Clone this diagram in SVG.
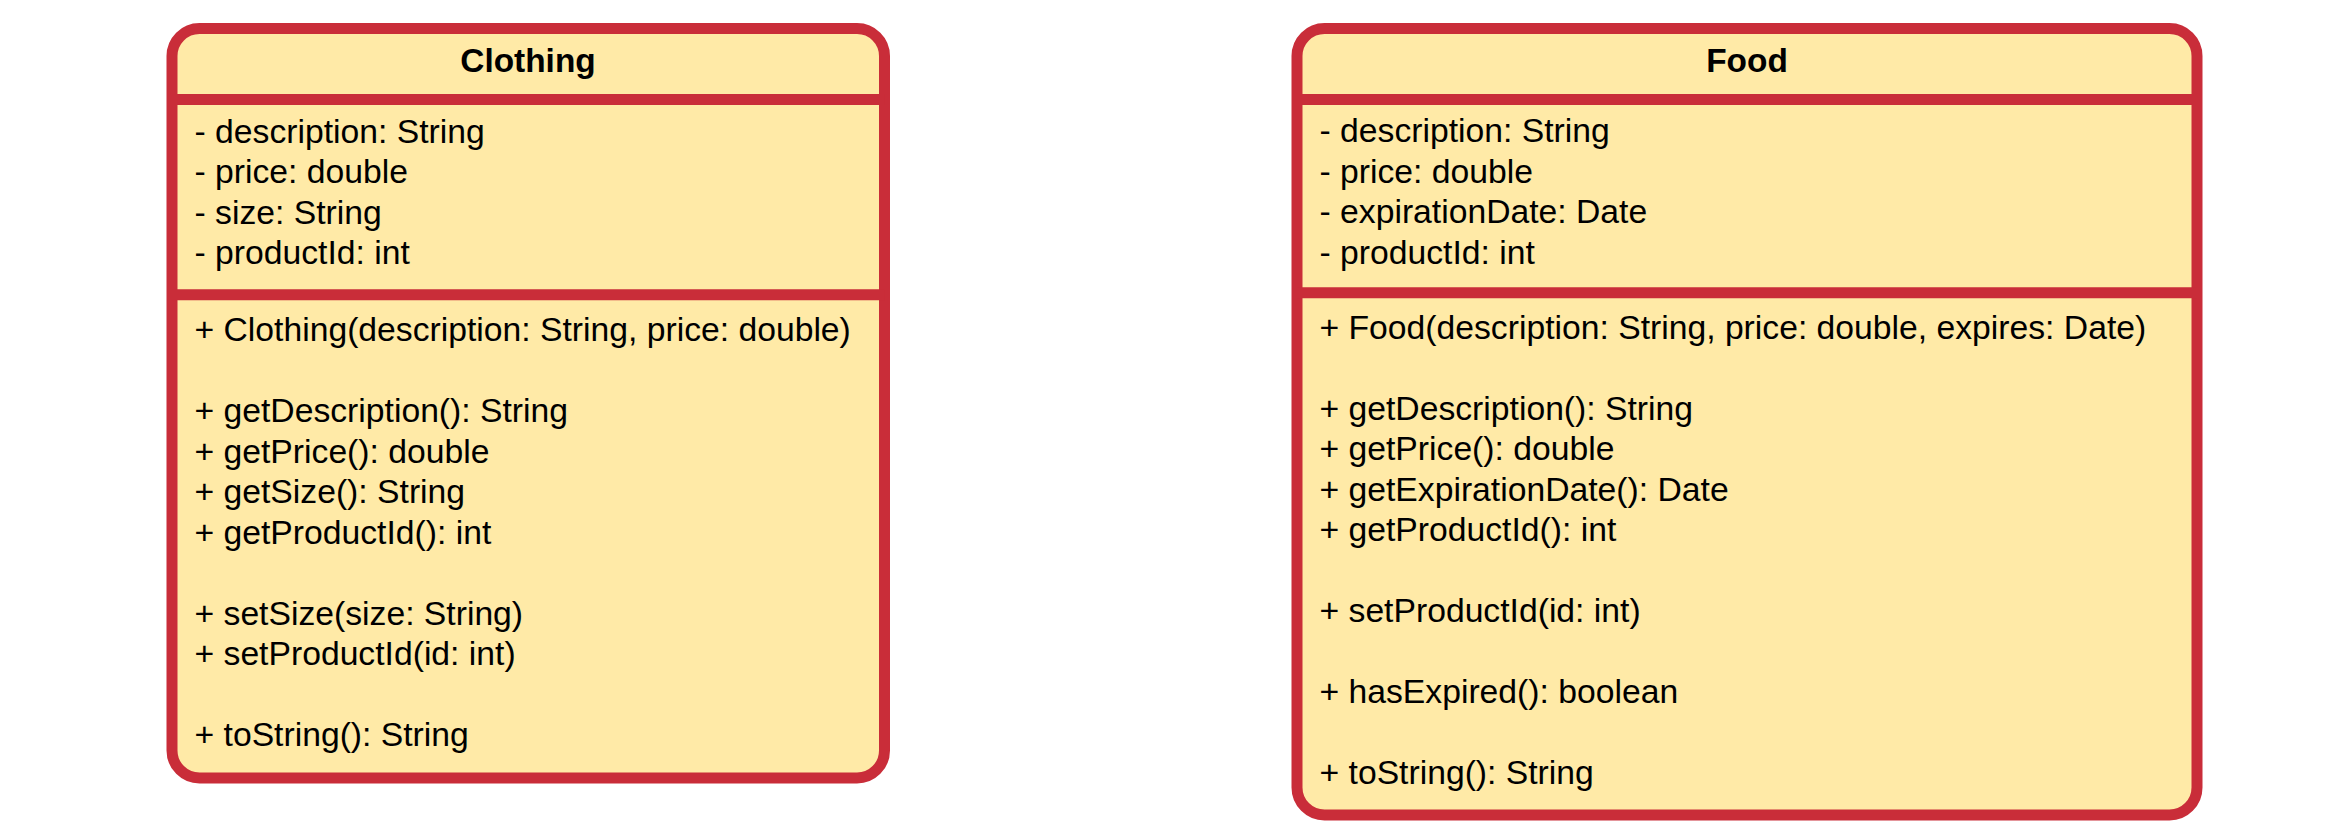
<svg xmlns="http://www.w3.org/2000/svg" width="2338" height="840" viewBox="0 0 2338 840">
<style>
.box{fill:#FFEAA7;stroke:#C92D39;stroke-width:11}
.div{stroke:#C92D39;stroke-width:11}
.t{font-family:"Liberation Sans",Arial,sans-serif;font-size:33.7px;fill:#000}
.title{font-family:"Liberation Sans",Arial,sans-serif;font-size:33.4px;font-weight:bold;fill:#000;text-anchor:middle}
</style>
<rect width="2338" height="840" fill="#ffffff"/>
<g id="clothing">
<rect class="box" x="172" y="28.5" width="712.5" height="749.5" rx="27.5" ry="27.5"/>
<line class="div" x1="172" y1="99.5" x2="884.5" y2="99.5"/>
<line class="div" x1="172" y1="294.7" x2="884.5" y2="294.7"/>
<text class="title" x="528" y="71.5">Clothing</text>
<text class="t" x="194.5" y="142.5">- description: String</text>
<text class="t" x="194.5" y="183">- price: double</text>
<text class="t" x="194.5" y="223.5">- size: String</text>
<text class="t" x="194.5" y="264">- productId: int</text>
<text class="t" x="194.5" y="341">+ Clothing(description: String, price: double)</text>
<text class="t" x="194.5" y="422">+ getDescription(): String</text>
<text class="t" x="194.5" y="462.5">+ getPrice(): double</text>
<text class="t" x="194.5" y="503">+ getSize(): String</text>
<text class="t" x="194.5" y="543.5">+ getProductId(): int</text>
<text class="t" x="194.5" y="624.5">+ setSize(size: String)</text>
<text class="t" x="194.5" y="665">+ setProductId(id: int)</text>
<text class="t" x="194.5" y="746">+ toString(): String</text>
</g>
<g id="food">
<rect class="box" x="1297" y="28.5" width="900" height="786.5" rx="27.5" ry="27.5"/>
<line class="div" x1="1297" y1="99.5" x2="2197" y2="99.5"/>
<line class="div" x1="1297" y1="292.8" x2="2197" y2="292.8"/>
<text class="title" x="1747" y="71.5">Food</text>
<text class="t" x="1319.5" y="142">- description: String</text>
<text class="t" x="1319.5" y="182.5">- price: double</text>
<text class="t" x="1319.5" y="223">- expirationDate: Date</text>
<text class="t" x="1319.5" y="263.5">- productId: int</text>
<text class="t" x="1319.5" y="338.5">+ Food(description: String, price: double, expires: Date)</text>
<text class="t" x="1319.5" y="419.5">+ getDescription(): String</text>
<text class="t" x="1319.5" y="460">+ getPrice(): double</text>
<text class="t" x="1319.5" y="500.5">+ getExpirationDate(): Date</text>
<text class="t" x="1319.5" y="541">+ getProductId(): int</text>
<text class="t" x="1319.5" y="622">+ setProductId(id: int)</text>
<text class="t" x="1319.5" y="703">+ hasExpired(): boolean</text>
<text class="t" x="1319.5" y="784">+ toString(): String</text>
</g>
<g id="connectors"></g>
</svg>
